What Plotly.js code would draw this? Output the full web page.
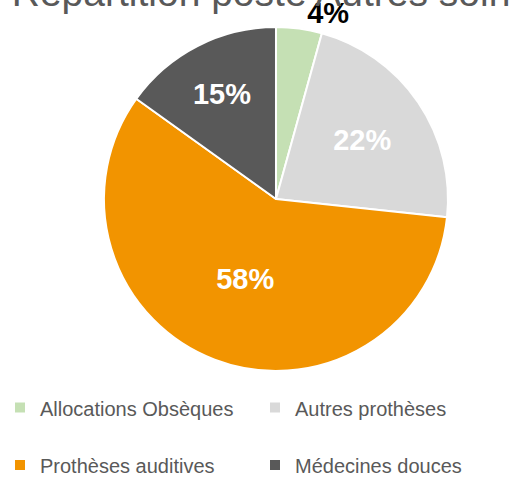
<!DOCTYPE html>
<html><head><meta charset="utf-8">
<script src="https://cdn.plot.ly/plotly-3.0.1.min.js"></script>
<style>html,body{margin:0;padding:0;background:#fff;}#chart{width:510px;height:486px;}</style>
</head><body><div id="chart"></div>
<script>
const chartTitle = 'Répartition poste Autres soins';
const categories = ['Allocations Obsèques', 'Autres prothèses', 'Prothèses auditives', 'Médecines douces'];
const values = [4.3, 22.4, 58.2, 15.1];
const colors = ['#c5e0b4', '#d9d9d9', '#f29400', '#595959'];
const textColors = ['#000000', '#ffffff', '#ffffff', '#ffffff'];
const textPositions = ['outside', 'inside', 'inside', 'inside'];

const FONT = 'Liberation Sans, Arial, sans-serif';

const trace = {
  type: 'pie',
  labels: categories.map(c => ' <br><span style="font-size:20px">' + c + '</span>'),
  values: values,
  sort: false,
  direction: 'clockwise',
  rotation: 0,
  marker: {colors: colors, line: {color: '#ffffff', width: 2}},
  texttemplate: '%{percent:.0%}',
  textposition: textPositions,
  textfont: {family: FONT, size: 29, color: textColors, weight: 'bold'},
  insidetextorientation: 'horizontal',
  hoverinfo: 'percent',
  domain: {x: [0.2039, 0.8784], y: [0.2366, 0.9444]}
};

const layout = {
  width: 510, height: 486,
  margin: {l: 0, r: 0, t: 0, b: 0},
  paper_bgcolor: '#ffffff',
  title: {text: chartTitle, font: {family: FONT, size: 39, color: '#595959'},
          x: 0.531, xanchor: 'center', xref: 'container', y: 1, yref: 'container', yanchor: 'bottom',
          pad: {b: -6}},
  showlegend: true,
  legend: {orientation: 'h', xref: 'paper', yref: 'paper',
           x: 0, xanchor: 'left', y: 0, yanchor: 'bottom',
           entrywidth: 210, entrywidthmode: 'pixels', valign: 'bottom',
           traceorder: 'normal', bgcolor: 'rgba(0,0,0,0)',
           font: {family: FONT, size: 21, color: '#595959'}}
};

Plotly.newPlot('chart', [trace], layout, {displayModeBar: false, staticPlot: true});
</script></body></html>
